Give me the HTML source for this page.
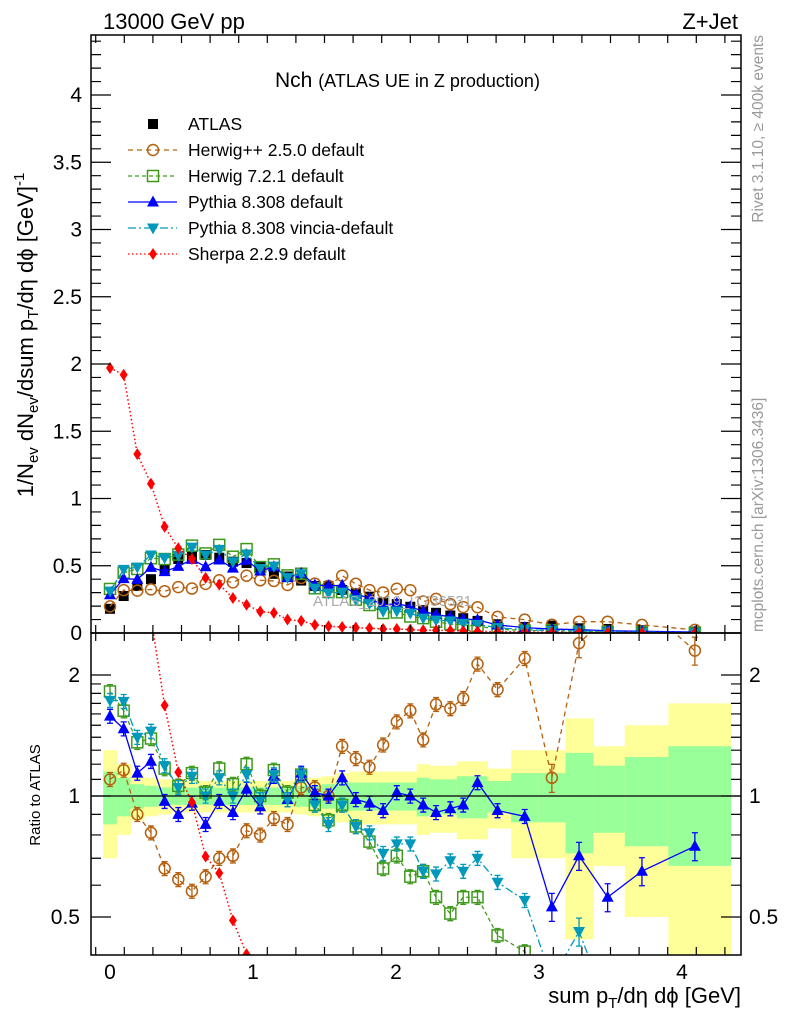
<!DOCTYPE html>
<html><head><meta charset="utf-8"><style>
html,body{margin:0;padding:0;background:#fff;overflow:hidden;width:786px;height:1024px;}
svg{display:block;font-family:"Liberation Sans",sans-serif;}
</style></head><body>
<svg id="chart" width="786" height="1024" viewBox="0 0 786 1024" xmlns="http://www.w3.org/2000/svg">
<defs>
<clipPath id="cm"><rect x="91" y="35" width="650" height="598"/></clipPath>
<clipPath id="cr"><rect x="91" y="633" width="650" height="322"/></clipPath>
</defs>
<g id="bands" clip-path="url(#cr)"></g>
<g id="mainMarks" clip-path="url(#cm)"></g>
<g id="ratioMarks" clip-path="url(#cr)"></g>
<g id="axes"></g>
<text x="103" y="29" font-size="22">13000 GeV pp</text>
<text x="738" y="29" font-size="22" text-anchor="end">Z+Jet</text>
<text x="275" y="87" font-size="21">Nch <tspan font-size="18">(ATLAS UE in Z production)</tspan></text>
<text x="313" y="606" font-size="15" fill="#aaa">ATLAS_2019_I1736531</text>
<text transform="translate(33,335) rotate(-90)" font-size="22" text-anchor="middle">1/N<tspan font-size="15" dy="5">ev</tspan><tspan dy="-5"> dN</tspan><tspan font-size="15" dy="5">ev</tspan><tspan dy="-5">/dsum p</tspan><tspan font-size="15" dy="5">T</tspan><tspan dy="-5">/dη dϕ  [GeV]</tspan><tspan font-size="15" dy="-9">-1</tspan></text>
<text transform="translate(40,795) rotate(-90)" font-size="15" text-anchor="middle">Ratio to ATLAS</text>
<text x="741" y="1003" font-size="22" text-anchor="end">sum p<tspan font-size="15" dy="5">T</tspan><tspan dy="-5">/dη dϕ [GeV]</tspan></text>
<text transform="translate(763,35) rotate(-90)" font-size="15.5" fill="#999" text-anchor="end">Rivet 3.1.10, ≥ 400k events</text>
<text transform="translate(763,632) rotate(-90)" font-size="15.5" fill="#999">mcplots.cern.ch [arXiv:1306.3436]</text>
<g id="legend"></g>
</svg>
<script>
const xs=[0,0.0955,0.191,0.2865,0.382,0.4775,0.573,0.6685,0.764,0.8595,0.955,1.0505,1.146,1.2415,1.337,1.4325,1.528,1.6235,1.719,1.8145,1.91,2.0055,2.1,2.19,2.28,2.38,2.47,2.57,2.71,2.90,3.09,3.28,3.48,3.72,4.09];
const atlas=[0.18,0.275,0.35,0.40,0.47,0.55,0.57,0.58,0.56,0.53,0.52,0.49,0.44,0.42,0.39,0.35,0.35,0.32,0.295,0.27,0.225,0.215,0.195,0.17,0.15,0.13,0.11,0.09,0.065,0.045,0.055,0.035,0.03,0.02,0.01];
const bandTot=[.3,.2,.13,.11,.1,.09,.09,.09,.09,.09,.09,.09,.09,.09,.1,.11,.12,.14,.15,.15,.15,.15,.15,.2,.19,.19,.22,.22,.17,.3,.3,.56,.33,.5,.7];
const bandStat=[.15,.11,.07,.06,.05,.05,.05,.05,.05,.05,.05,.05,.05,.05,.06,.06,.07,.08,.08,.08,.08,.08,.08,.11,.10,.10,.12,.12,.09,.14,.14,.28,.19,.25,.33];
const ratioHwpp=[1.10,1.16,0.90,0.81,0.66,0.62,0.58,0.63,0.70,0.71,0.82,0.80,0.88,0.85,1.05,1.05,1.0,1.33,1.24,1.18,1.34,1.53,1.63,1.38,1.69,1.65,1.75,2.13,1.84,2.20,1.11,2.4,2.8,3.0,2.3];
const ratioHw7=[1.82,1.63,1.36,1.39,1.17,1.06,1.14,1.02,1.17,1.07,1.20,1.0,1.16,1.02,1.13,0.95,0.87,0.95,0.84,0.77,0.66,0.71,0.63,0.65,0.56,0.51,0.56,0.56,0.45,0.41,0.35,0.3,0.3,0.3,0.3];
const ratioPy=[1.58,1.47,1.14,1.22,0.97,0.90,0.96,0.85,0.97,0.91,1.04,0.94,1.12,0.98,1.14,1.02,1.0,1.11,0.98,0.96,0.92,1.02,1.0,0.95,0.91,0.93,0.95,1.08,0.92,0.89,0.53,0.71,0.56,0.65,0.75];
const ratioVin=[1.73,1.72,1.40,1.45,1.19,1.05,1.12,1.0,1.11,1.0,1.13,0.98,1.13,0.98,1.13,0.95,0.85,0.95,0.84,0.81,0.72,0.76,0.76,0.65,0.64,0.69,0.65,0.70,0.61,0.55,0.35,0.46,0.3,0.3,0.3];
const sherpa=[1.97,1.92,1.33,1.11,0.79,0.63,0.55,0.41,0.36,0.26,0.21,0.16,0.15,0.10,0.09,0.06,0.05,0.045,0.04,0.035,0.03,0.03,0.025,0.02,0.02,0.018,0.015,0.012,0.01,0.008,0.006,0.004,0.003,0.002,0.001];
const mainTicks=[0,0.5,1,1.5,2,2.5,3,3.5,4];
const mainTickLabels=["0","0.5","1","1.5","2","2.5","3","3.5","4"];
const xTicks=[0,1,2,3,4];
const ratioTicks=[0.5,1,2];

const NS="http://www.w3.org/2000/svg";
const X=v=>110+143*v;
const Ym=v=>633-134.5*v;
const Yr=r=>796-121*Math.log2(r);
function mk(parent,tag,attrs){const e=document.createElementNS(NS,tag);for(const k in attrs)e.setAttribute(k,attrs[k]);parent.appendChild(e);return e;}

const bands=document.getElementById('bands');
for(let i=0;i<xs.length;i++){
  const l=i===0?xs[0]-(xs[1]-xs[0])/2:(xs[i-1]+xs[i])/2;
  const r=i===xs.length-1?4.34:(xs[i]+xs[i+1])/2;
  const y=mk(bands,'rect',{x:X(l),y:Yr(1+bandTot[i]),width:X(r)-X(l)+0.5,height:Yr(Math.max(0.05,1-bandTot[i]))-Yr(1+bandTot[i]),fill:'#ffff99'});
  
  
  const g=mk(bands,'rect',{x:X(l),y:Yr(1+bandStat[i]),width:X(r)-X(l)+0.5,height:Yr(1-bandStat[i])-Yr(1+bandStat[i]),fill:'#99ff99'});
  
  
}

function marker(g,type,cx,cy,color){
  let e;
  if(type==='sq') e=mk(g,'rect',{x:cx-5,y:cy-5,width:10,height:10,fill:'#000'});
  else if(type==='circ') e=mk(g,'circle',{cx:cx,cy:cy,r:5.5,fill:'none',stroke:color,'stroke-width':1.5});
  else if(type==='osq') e=mk(g,'rect',{x:cx-5.5,y:cy-5.5,width:11,height:11,fill:'none',stroke:color,'stroke-width':1.5});
  else if(type==='tri') e=mk(g,'path',{d:`M${cx},${cy-6.5}L${cx+6},${cy+4.5}L${cx-6},${cy+4.5}Z`,fill:color});
  else if(type==='itri') e=mk(g,'path',{d:`M${cx},${cy+6.5}L${cx+6},${cy-4.5}L${cx-6},${cy-4.5}Z`,fill:color});
  else if(type==='dia') e=mk(g,'path',{d:`M${cx},${cy-6}L${cx+4},${cy}L${cx},${cy+6}L${cx-4},${cy}Z`,fill:color});
  return e;
}
const series=[
 {name:'herwigpp',ratio:ratioHwpp,color:'#b5600f',dash:'5,4',type:'circ'},
 {name:'herwig7',ratio:ratioHw7,color:'#3f9a1c',dash:'4,3',type:'osq'},
 {name:'pythia',ratio:ratioPy,color:'#0000ff',dash:'',type:'tri'},
 {name:'vincia',ratio:ratioVin,color:'#0099bb',dash:'8,3,2,3',type:'itri'},
];
const mainG=document.getElementById('mainMarks');
const ratioG=document.getElementById('ratioMarks');
atlas.forEach((v,i)=>{const m=marker(mainG,'sq',X(xs[i]),Ym(v));

});
series.forEach(s=>{
  const mv=s.ratio.map((r,i)=>r*atlas[i]);
  const pm=mk(mainG,'polyline',{points:mv.map((v,i)=>X(xs[i])+','+Ym(v)).join(' '),fill:'none',stroke:s.color,'stroke-width':1.3,'stroke-dasharray':s.dash});
  
  
  const pr=mk(ratioG,'polyline',{points:s.ratio.map((r,i)=>X(xs[i])+','+Yr(r)).join(' '),fill:'none',stroke:s.color,'stroke-width':1.3,'stroke-dasharray':s.dash});
  
  
  mv.forEach((v,i)=>{const m=marker(mainG,s.type,X(xs[i]),Ym(v),s.color);
    
    });
  s.ratio.forEach((r,i)=>{
    const e=xs[i]>2.95?0.08:0.04;
    mk(ratioG,'path',{d:`M${X(xs[i])},${Yr(r*(1+e))}V${Yr(r*(1-e))}M${X(xs[i])-3},${Yr(r*(1+e))}h6M${X(xs[i])-3},${Yr(r*(1-e))}h6`,stroke:s.color,'stroke-width':1.3,fill:'none'});
    const m=marker(ratioG,s.type,X(xs[i]),Yr(r),s.color);
    
    
  });
});
{
  const sm=mk(mainG,'polyline',{points:sherpa.map((v,i)=>X(xs[i])+','+Ym(v)).join(' '),fill:'none',stroke:'#ff0000','stroke-width':1.5,'stroke-dasharray':'1.5,2.5'});
  
  
  const sr=sherpa.map((v,i)=>v/atlas[i]);
  const srl=mk(ratioG,'polyline',{points:sr.map((r,i)=>X(xs[i])+','+Yr(r)).join(' '),fill:'none',stroke:'#ff0000','stroke-width':1.5,'stroke-dasharray':'1.5,2.5'});
  
  
  sherpa.forEach((v,i)=>{const m=marker(mainG,'dia',X(xs[i]),Ym(v),'#ff0000');
    
    });
  sr.forEach((r,i)=>{const m=marker(ratioG,'dia',X(xs[i]),Yr(r),'#ff0000');
    
    });
}
const ref=mk(ratioG,'line',{x1:91,x2:741,y1:Yr(1),y2:Yr(1),stroke:'#000','stroke-width':1.2});



const ax=document.getElementById('axes');
mk(ax,'rect',{x:91,y:35,width:650,height:598,fill:'none',stroke:'#000','stroke-width':1.5});
mk(ax,'rect',{x:91,y:633,width:650,height:322,fill:'none',stroke:'#000','stroke-width':1.5});
let d='';
for(let v=0;v<=4.45;v+=0.1){const y=Ym(v);if(y<35)break;const maj=Math.abs(v*2-Math.round(v*2))<1e-6;const L=maj?20:10;d+=`M91,${y}h${L}M741,${y}h${-L}`;}
for(let v=-0.1;v<=4.41;v+=0.2){const x=X(v);if(x<91||x>741)continue;const maj=Math.abs(v-Math.round(v))<1e-6;const L=maj?16:8;d+=`M${x},35v${L}M${x},633v${-L}M${x},633v${L}M${x},955v${-L}`;}
for(let r=0.4;r<=2.5;r+=(r<2-1e-9?0.1:0.5)){const y=Yr(r);if(y<633||y>955)continue;const maj=ratioTicks.some(t=>Math.abs(t-r)<1e-6);const L=maj?20:10;d+=`M91,${y}h${L}M741,${y}h${-L}`;}
mk(ax,'path',{d:d,stroke:'#000','stroke-width':1.2,fill:'none'});
mainTicks.forEach((v,i)=>{const t=mk(ax,'text',{x:82,y:Ym(v)+7,'font-size':21,'text-anchor':'end'});t.textContent=mainTickLabels[i];

});
ratioTicks.forEach(r=>{
  const t=mk(ax,'text',{x:80,y:Yr(r)+7,'font-size':21,'text-anchor':'end'});t.textContent=String(r);
  
  
  const t2=mk(ax,'text',{x:749,y:Yr(r)+7,'font-size':21});t2.textContent=String(r);
  
  
});
xTicks.forEach(v=>{const t=mk(ax,'text',{x:X(v),y:979,'font-size':21,'text-anchor':'middle'});t.textContent=String(v);

});

const lg=document.getElementById('legend');
const leg=[['ATLAS','sq','#000',null],['Herwig++ 2.5.0 default','circ','#b5600f','5,4'],['Herwig 7.2.1 default','osq','#3f9a1c','4,3'],['Pythia 8.308 default','tri','#0000ff',''],['Pythia 8.308 vincia-default','itri','#0099bb','8,3,2,3'],['Sherpa 2.2.9 default','dia','#ff0000','1.5,2.5']];
leg.forEach((e,i)=>{
  const y=124+26*i;
  const g=mk(lg,'g',{});
  
  
  if(e[3]!==null) mk(g,'line',{x1:128,x2:177,y1:y,y2:y,stroke:e[2],'stroke-width':1.3,'stroke-dasharray':e[3]});
  marker(g,e[1],153,y,e[2]);
  const t=mk(g,'text',{x:188,y:y+6,'font-size':17.5});t.textContent=e[0];
});
</script>
</body></html>
